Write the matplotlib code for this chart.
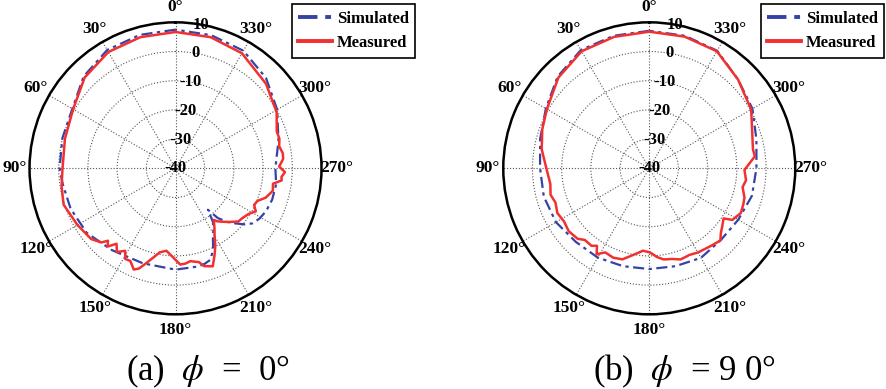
import numpy as np
import matplotlib.pyplot as plt

plt.rcParams['font.family'] = ['Liberation Serif', 'DejaVu Serif']
plt.rcParams['mathtext.fontset'] = 'stix'

# (a) phi = 0 deg : angle (deg, ccw from top) and gain (dB)
sim_a_deg = [0, 15, 30, 45, 60, 75, 90, 98, 111, 126, 142, 161, 180, 193, 197, 201,
             205, 208, 212, 215, 218, 220.4, 224, 227.3, 231, 234.4, 239, 244.6, 252,
             261, 270, 285, 300, 315, 330, 345, 360]
sim_a_db = [7.5, 7.3, 6.8, 4.5, 0.8, 0.1, -0.3, -1.0, -1.5, -2.4, -4.5, -5.6, -5.3, -5.5,
            -5.8, -6.5, -9.5, -12.7, -15.5, -17.7, -22.0, -17.6, -14.5, -12.2, -9.5, -7.6,
            -6.5, -5.7, -5.2, -5.1, -5.8, -3.5, 0.2, 3.8, 6.5, 7.2, 7.5]

meas_a_deg = [0, 15, 30, 45, 60, 75, 90, 99, 108, 120, 130, 135, 137, 139, 142, 145,
              148.6, 151, 154, 157.6, 160, 162.7, 166, 169.3, 173.7, 178.6, 182.8, 186,
              189, 194, 196.3, 200.8, 204, 207, 210.2, 213, 216.6, 218, 220.7, 225, 229.8,
              233, 238, 241.8, 245, 248.3, 252, 257, 261, 263.5, 265.3, 268, 271, 275,
              278, 282, 286, 290, 299, 313, 330, 345, 360]
meas_a_db = [6.7, 6.5, 6.0, 4.0, 0.5, -0.8, -1.3, -0.5, 0.3, -1.2, -2.3, -4.1, -6.1, -4.5,
             -7.2, -5.0, -6.9, -4.5, -4.7, -2.5, -3.5, -5.9, -8.5, -10.7, -11.6, -9.4, -7.0,
             -7.2, -7.8, -6.9, -5.1, -4.1, -7.2, -10.0, -13.4, -15.5, -18.0, -17.0, -15.9,
             -14.0, -11.8, -11.5, -10.5, -8.8, -10.3, -9.8, -7.5, -5.8, -6.2, -3.4, -3.6,
             -2.5, -4.5, -3.0, -2.9, -3.7, -3.0, -3.1, -0.4, 2.4, 5.5, 6.5, 6.7]

# (b) phi = 90 deg
sim_b_deg = [0, 15, 30, 45, 60, 75, 90, 105, 120, 135, 150, 165, 180, 195, 210, 225,
             240, 255, 270, 285, 300, 315, 330, 345, 360]
sim_b_db = [7.1, 7.0, 6.8, 4.4, 0.9, -1.3, -2.6, -2.6, -3.1, -4.4, -4.7, -5.3, -5.5, -5.3,
            -4.6, -5.3, -4.8, -3.6, -3.3, -2.0, 0.8, 3.0, 6.5, 7.0, 7.1]

meas_b_deg = [0, 15, 30, 45, 60, 70, 80, 91, 99, 105, 110, 116, 122, 128, 134.6, 138,
              143.3, 146, 148.5, 152.4, 158, 163.6, 170, 175.7, 180.5, 185, 189, 194, 199,
              205, 210, 219, 224.6, 228, 231.3, 236, 238.2, 244, 249, 253, 258.6, 263,
              269, 272.9, 276.5, 280.3, 290, 300, 315, 330, 345, 360]
meas_b_db = [6.8, 6.6, 6.3, 4.0, 0.5, -1.0, -2.6, -4.9, -5.7, -5.0, -5.8, -5.0, -5.6, -5.0,
             -5.6, -7.0, -6.9, -8.0, -5.5, -7.5, -7.0, -7.5, -10.0, -11.7, -11.2, -9.5,
             -8.4, -8.0, -7.0, -7.3, -6.7, -6.0, -5.3, -7.0, -8.0, -9.3, -6.5, -5.1, -5.5,
             -5.9, -7.4, -6.6, -7.4, -5.6, -3.6, -3.9, -2.5, 0.3, 3.0, 6.3, 6.7, 6.8]

r_ticks = [-40, -30, -20, -10, 0, 10]
angle_ticks = list(range(0, 360, 30))
angle_labels = [f'{a}°' for a in angle_ticks]

SIM_COLOR = '#3444a6'
MEAS_COLOR = '#f23030'


def draw_pattern(ax, sim_deg, sim_db, meas_deg, meas_db):
    ax.set_theta_zero_location('N')
    ax.set_theta_direction(1)
    ax.plot(np.deg2rad(sim_deg), sim_db, color=SIM_COLOR, lw=1.6,
            linestyle=(0, (5, 2, 1.5, 2)), label='Simulated', zorder=3)
    ax.plot(np.deg2rad(meas_deg), meas_db, color=MEAS_COLOR, lw=1.8,
            label='Measured', zorder=4)
    ax.set_rlim(-40, 10)
    ax.set_yticks(r_ticks)
    ax.set_yticklabels([])
    for r in r_ticks:
        ax.text(np.deg2rad(350), r, str(r), ha='center', va='center',
                fontsize=12, fontweight='bold', zorder=5)
    ax.set_thetagrids(angle_ticks, angle_labels, fontsize=12.5, fontweight='bold')
    ax.tick_params(axis='x', pad=4, length=0)
    ax.grid(True, color='#555555', linestyle=':', lw=0.8)
    ax.spines['polar'].set_linewidth(1.8)
    ax.spines['polar'].set_color('black')


fig = plt.figure(figsize=(8.86, 3.89), dpi=100)
ax_a = fig.add_axes([0.0333, 0.192, 0.3296, 0.7506], projection='polar')
ax_b = fig.add_axes([0.568, 0.192, 0.3296, 0.7506], projection='polar')

draw_pattern(ax_a, sim_a_deg, sim_a_db, meas_a_deg, meas_a_db)
draw_pattern(ax_b, sim_b_deg, sim_b_db, meas_b_deg, meas_b_db)

for ax, x0 in [(ax_a, 291.7 / 886), (ax_b, 760.7 / 886)]:
    leg = ax.legend(loc='upper left', bbox_to_anchor=(x0, 1 - 4 / 389),
                    bbox_transform=fig.transFigure, borderaxespad=0,
                    fancybox=False, framealpha=1, edgecolor='black',
                    prop={'weight': 'bold', 'size': 12}, handlelength=2.0,
                    handletextpad=0.3, borderpad=0.4, labelspacing=0.5)
    leg.get_frame().set_linewidth(1.2)
    for line in leg.get_lines():
        line.set_linewidth(2.8)

fig.text(208 / 886, 9 / 389, r'(a)  $\phi$  =  0°', ha='center', va='baseline', fontsize=25)
fig.text(684 / 886, 9 / 389, r'(b)  $\phi$  = 9 0°', ha='center', va='baseline', fontsize=25)

fig.savefig('out.png', dpi=100)
